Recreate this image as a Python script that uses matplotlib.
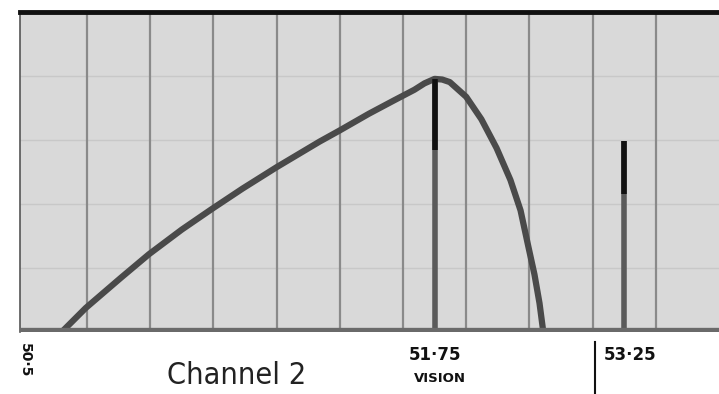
import matplotlib
matplotlib.use("Agg")
import matplotlib.pyplot as plt

# Response curve (frequency in MHz, relative level)
curve_freq = [48.80, 48.99, 49.27, 49.49, 49.75, 49.99, 50.23, 50.50, 50.84, 51.00,
              51.23, 51.43, 51.59, 51.67, 51.75, 51.81, 51.87, 52.00, 52.12, 52.24,
              52.35, 52.43, 52.49, 52.54, 52.58, 52.61]
curve_level = [0.00, 0.075, 0.170, 0.243, 0.320, 0.385, 0.448, 0.515, 0.595, 0.630,
               0.682, 0.724, 0.757, 0.777, 0.791, 0.789, 0.781, 0.735, 0.665, 0.575,
               0.475, 0.380, 0.270, 0.180, 0.090, 0.00]

# Carriers
carrier_freq = [51.75, 53.25]
carrier_level = [0.791, 0.597]
carrier_labels = ["51·75", "53·25"]

grid_freq = [49.0, 49.5, 50.0, 50.5, 51.0, 51.5, 52.0, 52.5, 53.0, 53.5]
grid_level = [0.2, 0.4, 0.6, 0.8]

W, H = 719, 394
fig = plt.figure(figsize=(W / 100, H / 100), dpi=100)
fig.patch.set_facecolor("white")
ax = fig.add_axes([20 / W, (H - 332) / H, 699 / W, 320 / H])
ax.set_xlim(48.47, 54.0)
ax.set_ylim(0, 1.0)
ax.set_facecolor("#d9d9d9")

for g in grid_level:
    ax.axhline(g, color="#c8c8c8", lw=1.0, zorder=1)
for g in grid_freq:
    ax.axvline(g, color="#8a8a8a", lw=1.6, zorder=1)

ax.plot(curve_freq, curve_level, color="#4a4a4a", lw=4.5,
        solid_capstyle="round", solid_joinstyle="round", zorder=3)

for f, lv in zip(carrier_freq, carrier_level):
    ax.plot([f, f], [0, lv], color="#5a5a5a", lw=4, zorder=4, solid_capstyle="butt")
    ax.plot([f, f], [lv * 0.72, lv], color="#111111", lw=4, zorder=5, solid_capstyle="butt")

ax.axhline(0.0, color="#6a6a6a", lw=6, zorder=6)

ax.spines["top"].set_color("#111111")
ax.spines["top"].set_linewidth(3.5)
ax.spines["left"].set_color("#555555")
ax.spines["left"].set_linewidth(1.2)
ax.spines["right"].set_visible(False)
ax.spines["bottom"].set_visible(False)
ax.set_xticks([])
ax.set_yticks([])

# Annotations under the axis
def fx(f):
    return (20 + (f - 48.47) / (54.0 - 48.47) * 699) / W

fig.text(fx(carrier_freq[0]), 1 - 355 / H, carrier_labels[0], ha="center", va="center",
         fontsize=12, fontweight="bold", family="DejaVu Sans", color="#111111")
fig.text(fx(carrier_freq[0]) + 5 / W, 1 - 378 / H, "VISION", ha="center", va="center",
         fontsize=9.5, fontweight="bold", family="DejaVu Sans", color="#111111")
fig.text(fx(carrier_freq[1]) + 6 / W, 1 - 355 / H, carrier_labels[1], ha="center", va="center",
         fontsize=12, fontweight="bold", family="DejaVu Sans", color="#111111")
fig.text(237 / W, 1 - 376 / H, "Channel 2", ha="center", va="center",
         fontsize=22, family="DejaVu Sans", fontstretch="condensed", color="#222222")
fig.text(25 / W, 1 - 360 / H, "50·5", ha="center", va="center", rotation=-90,
         fontsize=10, fontweight="bold", family="DejaVu Sans", color="#111111")
fig.add_artist(plt.Line2D([595 / W, 595 / W], [0, 1 - 342 / H], color="#111111", lw=1.5))

fig.savefig("out.png", dpi=100, facecolor="white")
